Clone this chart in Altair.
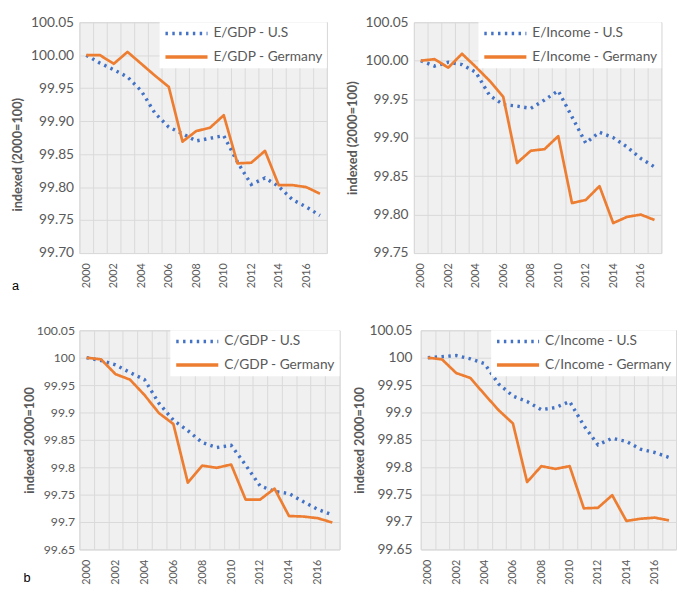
import altair as alt
import pandas as pd

years = list(range(2000, 2018))

# Panel a: E/GDP
a_us = [100.000, 99.988, 99.978, 99.967, 99.946, 99.912, 99.891, 99.881, 99.870,
        99.874, 99.878, 99.838, 99.804, 99.814, 99.801, 99.781, 99.770, 99.757]
a_de = [100.000, 100.000, 99.987, 100.005, 99.987, 99.969, 99.952, 99.869, 99.885,
        99.890, 99.909, 99.836, 99.837, 99.855, 99.803, 99.803, 99.800, 99.790]
# Panel b (top right): E/Income
b_us = [100.000, 99.993, 99.998, 99.995, 99.985, 99.955, 99.943, 99.941, 99.938,
        99.949, 99.961, 99.927, 99.893, 99.907, 99.900, 99.888, 99.873, 99.862]
b_de = [100.000, 100.002, 99.991, 100.009, 99.992, 99.974, 99.953, 99.867, 99.883,
        99.885, 99.902, 99.815, 99.819, 99.837, 99.789, 99.797, 99.800, 99.793]
# Panel c (bottom left): C/GDP
c_us = [100.000, 99.995, 99.987, 99.973, 99.960, 99.917, 99.886, 99.867, 99.845,
        99.836, 99.840, 99.804, 99.766, 99.756, 99.752, 99.737, 99.723, 99.713]
c_de = [100.000, 99.997, 99.970, 99.960, 99.932, 99.899, 99.879, 99.772, 99.803,
        99.799, 99.805, 99.741, 99.741, 99.761, 99.711, 99.710, 99.707, 99.699]
# Panel d (bottom right): C/Income
d_us = [100.000, 100.002, 100.004, 99.998, 99.989, 99.952, 99.930, 99.920, 99.905,
        99.909, 99.920, 99.876, 99.841, 99.853, 99.847, 99.833, 99.827, 99.818]
d_de = [100.000, 99.997, 99.972, 99.963, 99.933, 99.904, 99.880, 99.773, 99.802,
        99.797, 99.802, 99.725, 99.726, 99.749, 99.702, 99.706, 99.708, 99.703]

ticks_top_a = [99.70, 99.75, 99.80, 99.85, 99.90, 99.95, 100.00, 100.05]
ticks_top_b = [99.75, 99.80, 99.85, 99.90, 99.95, 100.00, 100.05]
ticks_bottom = [99.65, 99.70, 99.75, 99.80, 99.85, 99.90, 99.95, 100.00, 100.05]

FONT = "Lato"
GRAY = "#595959"
GRID = "#d9d9d9"
BLUE = "#4472C4"
ORANGE = "#ED7D31"


def panel(us, de, us_name, de_name, ydom, yvals, yfmt, ytitle, w, h,
          letter=None, letter_offset=0, title_y=None, label_pad=6,
          title_pad=6, label_size=14):
    df = pd.DataFrame({
        "year": years * 2,
        "value": us + de,
        "series": [us_name] * len(years) + [de_name] * len(years),
    })
    dom = [us_name, de_name]
    leg = dict(title=None, orient="top-right", offset=0, fillColor="white",
               padding=4, symbolType="stroke", symbolSize=1850,
               symbolStrokeWidth=3.5, labelFont=FONT, labelFontSize=14,
               labelColor=GRAY, rowPadding=9, labelOffset=4, clipHeight=15)
    color = alt.Color("series:N", scale=alt.Scale(domain=dom, range=[BLUE, ORANGE]),
                      legend=alt.Legend(**leg))
    dash = alt.StrokeDash("series:N",
                          scale=alt.Scale(domain=dom, range=[[2.5, 4.5], [1, 0]]),
                          legend=alt.Legend(**leg))
    yaxis = dict(values=yvals, format=yfmt, title=ytitle, grid=True, gridColor=GRID,
                 ticks=False, domain=False, labelFont=FONT, labelFontSize=label_size,
                 labelColor=GRAY, labelPadding=label_pad, titleFont=FONT,
                 titleFontSize=13, titleFontWeight="bold", titleColor=GRAY,
                 titlePadding=title_pad)
    if title_y is not None:
        yaxis["titleY"] = title_y
    x = alt.X("year:O", scale=alt.Scale(paddingInner=0, paddingOuter=0),
              axis=alt.Axis(title=None, labelAngle=270,
                            labelExpr="datum.value % 2 == 0 ? datum.label : ''",
                            grid=True, gridColor=GRID, tickBand="extent",
                            ticks=False, domain=False, labelFont=FONT,
                            labelFontSize=11, labelColor=GRAY, labelPadding=10,
                            labelOverlap=False))
    y = alt.Y("value:Q", scale=alt.Scale(domain=ydom, zero=False, nice=False),
              axis=alt.Axis(**yaxis))
    base = alt.Chart(df).encode(x=x, y=y, color=color, strokeDash=dash)
    us_line = base.transform_filter(alt.datum.series == us_name).mark_line(
        strokeWidth=3.5)
    de_line = base.transform_filter(alt.datum.series == de_name).mark_line(
        strokeWidth=2.75, strokeJoin="round")
    props = dict(width=w, height=h)
    if letter:
        props["title"] = alt.TitleParams(text=letter, orient="bottom", anchor="start",
                                         font="Liberation Sans", fontSize=13,
                                         fontWeight="normal", color="black",
                                         offset=letter_offset)
    return alt.layer(us_line, de_line).properties(**props)


def indep(c):
    return c.resolve_scale(color="independent", strokeDash="independent",
                           x="independent", y="independent").resolve_legend(
        color="independent", strokeDash="independent")


pa = panel(a_us, a_de, "E/GDP - U.S", "E/GDP - Germany", [99.70, 100.05], ticks_top_a,
           ".2f", "indexed  (2000=100)", 253, 236, letter="a", letter_offset=-8,
           title_y=135)
pb = panel(b_us, b_de, "E/Income - U.S", "E/Income - Germany", [99.75, 100.05],
           ticks_top_b, ".2f", "indexed (2000=100)", 253, 236)
pc = panel(c_us, c_de, "C/GDP - U.S", "C/GDP - Germany", [99.65, 100.05], ticks_bottom,
           ".2~f", "indexed 2000=100", 266, 224, letter="b", letter_offset=-12,
           label_pad=5, title_pad=0, label_size=12.5)
pd_ = panel(d_us, d_de, "C/Income - U.S", "C/Income - Germany", [99.65, 100.05],
            ticks_bottom, ".2~f", "indexed 2000=100", 261, 224, label_pad=9,
            title_pad=3)

top = indep(alt.hconcat(pa, pb, spacing=18))
bottom = indep(alt.hconcat(pc, pd_, spacing=12))
chart = (
    indep(alt.vconcat(top, bottom, spacing=29))
    .properties(padding={"left": 3, "top": 0, "right": 0, "bottom": 0})
    .configure_view(fill="#f0f0f0", stroke=GRID)
)

chart.save("out.html", embed_options={"renderer": "svg", "actions": False})
